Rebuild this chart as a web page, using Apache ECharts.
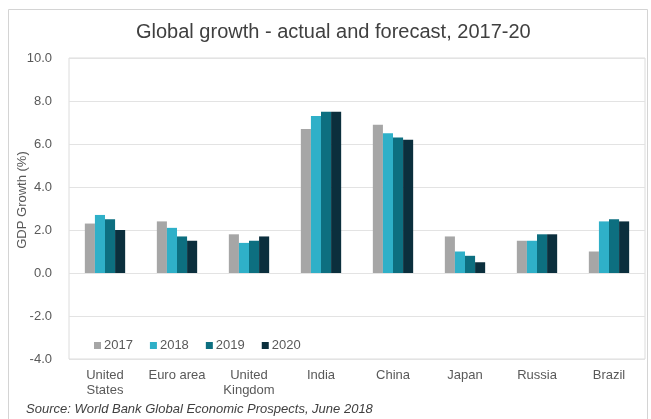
<!DOCTYPE html>
<html>
<head>
<meta charset="utf-8">
<script src="https://cdn.jsdelivr.net/npm/echarts@6/dist/echarts.min.js"></script>
<style>html,body{margin:0;padding:0;background:#fff;}#c{width:651px;height:419px;}</style>
</head>
<body>
<div id="c"></div>
<script>
const categories = ['United\nStates', 'Euro area', 'United\nKingdom', 'India', 'China', 'Japan', 'Russia', 'Brazil'];
const seriesNames = ['2017', '2018', '2019', '2020'];
const v2017 = [2.3, 2.4, 1.8, 6.7, 6.9, 1.7, 1.5, 1.0];
const v2018 = [2.7, 2.1, 1.4, 7.3, 6.5, 1.0, 1.5, 2.4];
const v2019 = [2.5, 1.7, 1.5, 7.5, 6.3, 0.8, 1.8, 2.5];
const v2020 = [2.0, 1.5, 1.7, 7.5, 6.2, 0.5, 1.8, 2.4];
const values = [v2017, v2018, v2019, v2020];
const colors = ['#a6a6a6', '#2fb0c8', '#0d6f80', '#0b2f3d'];
const FONT = 'Liberation Sans, Arial, sans-serif';

const chart = echarts.init(document.getElementById('c'), null, {renderer: 'canvas'});
chart.setOption({
  animation: false,
  backgroundColor: '#fff',
  title: {
    text: 'Global growth - actual and forecast, 2017-20',
    left: 131, top: 17,
    textStyle: {fontFamily: FONT, fontSize: 20, fontWeight: 'normal', color: '#404040'}
  },
  legend: {
    data: seriesNames, left: 89, top: 334, icon: 'rect', itemWidth: 7, itemHeight: 7, itemGap: 17,
    textStyle: {fontFamily: FONT, fontSize: 13, color: '#595959', padding: [0,0,0,-2]}
  },
  grid: {left: 69, right: 6, top: 58, bottom: 60, show: true, borderColor: '#dcdcdc', borderWidth: 1},
  xAxis: {
    type: 'category', data: categories,
    axisLine: {show: false}, axisTick: {show: false},
    axisLabel: {interval: 0, fontFamily: FONT, fontSize: 13, color: '#595959', lineHeight: 15, margin: 9}
  },
  yAxis: {
    type: 'value', min: -4, max: 10, interval: 2,
    axisLine: {show: false}, axisTick: {show: false},
    axisLabel: {fontFamily: FONT, fontSize: 13, color: '#595959', margin: 17, formatter: v => v.toFixed(1)},
    splitLine: {lineStyle: {color: '#e3e3e3', width: 1}}
  },
  series: seriesNames.map((n, i) => ({
    name: n, type: 'bar', data: values[i], barGap: 0, barCategoryGap: '44%',
    itemStyle: {color: colors[i]}
  })),
  graphic: [
    {type: 'rect', shape: {x: 8.5, y: 9.5, width: 639, height: 430}, style: {fill: 'none', stroke: '#d4d4d4', lineWidth: 1}, silent: true},
    {type: 'text', x: 22, y: 200, rotation: Math.PI / 2, style: {text: 'GDP Growth (%)', font: '13px ' + FONT, fill: '#595959', align: 'center', verticalAlign: 'middle'}},
    {type: 'text', left: 26, top: 403, style: {text: 'Source: World Bank Global Economic Prospects, June 2018', font: 'italic 13px ' + FONT, fill: '#404040'}}
  ]
});
</script>
</body>
</html>
